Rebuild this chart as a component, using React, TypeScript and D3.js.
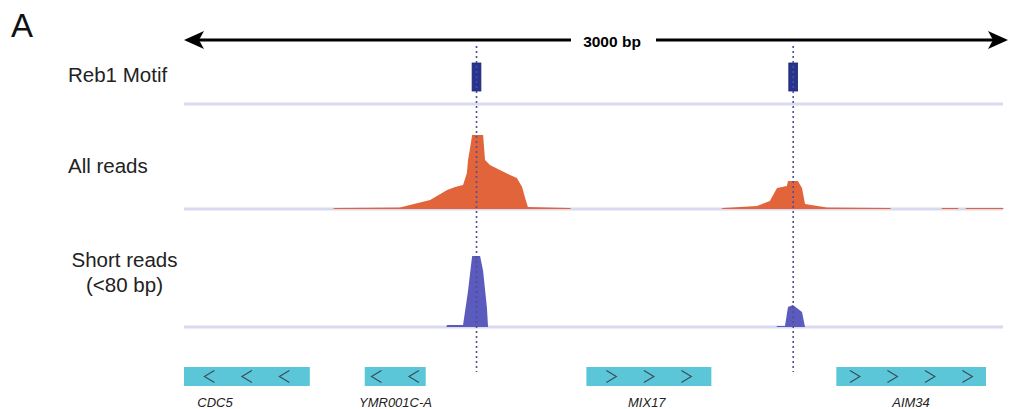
import React from 'react';
import * as d3 from 'd3';

// genomic window (bp)
const windowBp = [0, 3000];

// Reb1 motif hits [start, end] in bp
const motifStarts = [1049, 2202];
const motifEnds = [1081, 2234];

// coverage profiles: [bp, reads]
const allReadsA = [
  [540, 0], [550, 1], [786, 1.5], [896, 9], [921, 13], [958, 19], [987, 22], [1016, 24],
  [1030, 36], [1034, 49], [1041, 60], [1049, 74], [1089, 74], [1096, 49], [1114, 44],
  [1150, 39], [1187, 34], [1212, 31], [1231, 22], [1241, 12], [1252, 2], [1405, 1], [1410, 0],
];
const allReadsB = [
  [1955, 0], [1962, 1], [2086, 3], [2133, 8], [2159, 21], [2195, 23], [2199, 28], [2235, 28],
  [2250, 21], [2261, 5], [2341, 1.5], [2570, 1], [2575, 0],
];
const allReadsC = [[2758, 0], [2760, 1], [2818, 1], [2820, 0]];
const allReadsD = [[2845, 0], [2847, 1], [2982, 1], [2984, 0]];

const shortReadsA = [
  [955, 0], [958, 2], [1016, 2], [1034, 36], [1049, 71], [1078, 71], [1089, 56], [1103, 19], [1107, 0],
];
const shortReadsB = [
  [2157, 0], [2159, 1], [2188, 1], [2199, 20], [2217, 22], [2250, 15], [2261, 0],
];

// genes
const geneNames = ['CDC5', 'YMR001C-A', 'MIX17', 'AIM34'];
const geneStarts = [0, 658, 1465, 2375];
const geneEnds = [458, 880, 1920, 2920];
const geneStrands = ['-', '-', '+', '+'];
const geneLabelBp = [113, 770, 1685, 2647];

const trackLabels = ['Reb1 Motif', 'All reads', 'Short reads', '(<80 bp)'];

const W = 1010;
const H = 409;
const FONT = '"Liberation Sans", Arial, Helvetica, sans-serif';

export default function App() {
  const x = d3.scaleLinear().domain(windowBp).range([184, 1008]);
  const yAll = d3.scaleLinear().domain([0, 75]).range([209, 134]);
  const yShort = d3.scaleLinear().domain([0, 75]).range([327, 252]);

  const areaAll = d3.area<number[]>()
    .x(d => x(d[0]))
    .y0(yAll(0))
    .y1(d => yAll(d[1]));
  const areaShort = d3.area<number[]>()
    .x(d => x(d[0]))
    .y0(yShort(0))
    .y1(d => yShort(d[1]));

  const baseY = [104, 209, 327];
  const lineEnd = 1003;
  const arrowY = 40;

  return (
    <svg width={W} height={H} style={{ position: 'absolute', left: 0, top: 0, background: '#fff' }}
      fontFamily={FONT}>
      <text x={11} y={37} fontSize={33} fill="#111">A</text>

      {/* scale arrow */}
      <line x1={195} x2={571} y1={arrowY} y2={arrowY} stroke="#000" strokeWidth={3} />
      <line x1={656} x2={998} y1={arrowY} y2={arrowY} stroke="#000" strokeWidth={3} />
      <path d={`M184,${arrowY} L204,${arrowY - 9} L199,${arrowY} L204,${arrowY + 9} Z`} fill="#000" />
      <path d={`M1008,${arrowY} L988,${arrowY - 9} L993,${arrowY} L988,${arrowY + 9} Z`} fill="#000" />
      <text x={612} y={47} textAnchor="middle" fontSize={15.5} fontWeight="bold" fill="#000">3000 bp</text>

      {/* track labels */}
      <text x={68} y={82} fontSize={20.5} fill="#222">{trackLabels[0]}</text>
      <text x={68} y={172.5} fontSize={20.5} fill="#222">{trackLabels[1]}</text>
      <text x={124.5} y={267} fontSize={20.5} textAnchor="middle" fill="#222">{trackLabels[2]}</text>
      <text x={124.5} y={292} fontSize={20.5} textAnchor="middle" fill="#222">{trackLabels[3]}</text>

      {/* baselines */}
      {baseY.map(y => (
        <line key={y} x1={x(windowBp[0])} x2={lineEnd} y1={y} y2={y} stroke="#d9d9f0" strokeWidth={3} />
      ))}

      {/* coverage */}
      {[allReadsA, allReadsB, allReadsC, allReadsD].map((d, i) => (
        <path key={'a' + i} d={areaAll(d) || ''} fill="#e2643a" />
      ))}
      {[shortReadsA, shortReadsB].map((d, i) => (
        <path key={'s' + i} d={areaShort(d) || ''} fill="#5b5bbd" />
      ))}

      {/* motifs */}
      {motifStarts.map((s, i) => (
        <rect key={'m' + i} x={x(s)} y={63} width={x(motifEnds[i]) - x(s)} height={28}
          fill="#27348f" stroke="#1d2670" strokeWidth={0.8} />
      ))}

      {/* motif guide lines */}
      {motifStarts.map((s, i) => {
        const cx = x((s + motifEnds[i]) / 2);
        return (
          <line key={'g' + i} x1={cx} x2={cx} y1={46} y2={372} stroke="#4d4d99"
            strokeWidth={1.6} strokeDasharray="2 3" />
        );
      })}

      {/* genes */}
      {geneNames.map((name, i) => {
        const x0 = x(geneStarts[i]);
        const x1 = x(geneEnds[i]);
        const w = x1 - x0;
        const n = Math.max(1, Math.round(w / 38));
        const cx = (x0 + x1) / 2;
        const spacing = 37.5;
        const chev = d3.range(n).map(k => cx + (k - (n - 1) / 2) * spacing);
        const dir = geneStrands[i] === '+' ? 1 : -1;
        return (
          <g key={name}>
            <rect x={x0} y={367} width={w} height={19} fill="#5cc6d9" />
            {chev.map((c, k) => (
              <path key={k}
                d={`M${c - dir * 5},${370.5} L${c + dir * 5},${376.5} L${c - dir * 5},${382.5}`}
                fill="none" stroke="#3a4a55" strokeWidth={1.1} />
            ))}
            <text x={x(geneLabelBp[i])} y={407} textAnchor="middle" fontSize={13}
              fontStyle="italic" fill="#222">{name}</text>
          </g>
        );
      })}
    </svg>
  );
}
